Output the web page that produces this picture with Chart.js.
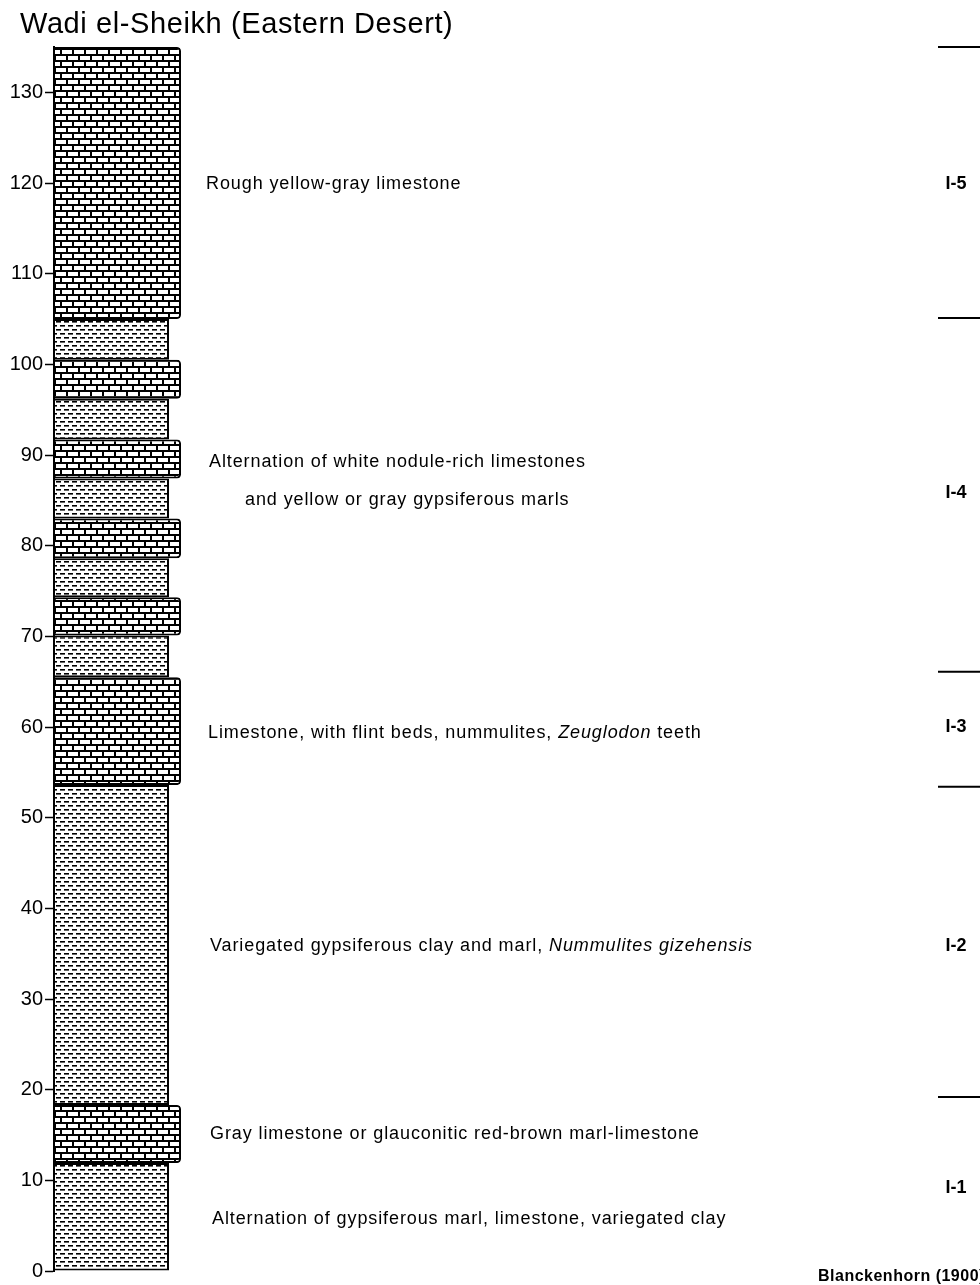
<!DOCTYPE html>
<html>
<head>
<meta charset="utf-8">
<script src="https://cdn.jsdelivr.net/npm/chart.js@4.4.0/dist/chart.umd.min.js"></script>
<style>
  html, body { margin: 0; padding: 0; background: #fff; }
</style>
</head>
<body>
<canvas id="section" width="980" height="1285"></canvas>
<script>
// layers, bottom to top (metres)
const lithology = ['marl', 'limestone', 'marl', 'limestone', 'marl', 'limestone', 'marl',
  'limestone', 'marl', 'limestone', 'marl', 'limestone', 'marl', 'limestone'];
const layerBase = [0, 11.9, 18.3, 53.6, 65.5, 70.1, 74.3, 78.6, 83.0, 87.4, 91.7, 96.2, 100.5, 105.0];
const layerTop = [11.9, 18.3, 53.6, 65.5, 70.1, 74.3, 78.6, 83.0, 87.4, 91.7, 96.2, 100.5, 105.0, 135];

// descriptions (segments: [text, italic]) and the height they sit at
const descParts = [
  [['Rough yellow-gray limestone', false]],
  [['Alternation of white nodule-rich limestones', false]],
  [['and yellow or gray gypsiferous marls', false]],
  [['Limestone, with flint beds, nummulites, ', false], ['Zeuglodon', true], [' teeth', false]],
  [['Variegated gypsiferous clay and marl, ', false], ['Nummulites gizehensis', true]],
  [['Gray limestone or glauconitic red-brown marl-limestone', false]],
  [['Alternation of gypsiferous marl, limestone, variegated clay', false]]
];
const descAt = [120.1, 89.5, 85.2, 59.6, 36.1, 15.3, 6.0];

// units on the right
const unitNames = ['I-1', 'I-2', 'I-3', 'I-4', 'I-5'];
const unitLabelAt = [9.4, 36.1, 60.2, 86.0, 120.1];
const unitBounds = [19.2, 53.4, 66.1, 105.1, 135];

const yMin = 0, yMax = 135, yStep = 10;
const title = 'Wadi el-Sheikh (Eastern Desert)';
const source = 'Blanckenhorn (1900)';

const canvas = document.getElementById('section');
const ctx = canvas.getContext('2d');

function brickPattern() {
  const c = document.createElement('canvas');
  c.width = 12; c.height = 12;
  const g = c.getContext('2d');
  g.fillStyle = '#fff'; g.fillRect(0, 0, 12, 12);
  g.fillStyle = '#000';
  g.fillRect(0, 0, 12, 2);
  g.fillRect(0, 6, 12, 2);
  g.fillRect(0, 0, 2, 6);
  g.fillRect(6, 6, 2, 6);
  return ctx.createPattern(c, 'repeat');
}

function marlPattern() {
  const c = document.createElement('canvas');
  c.width = 8; c.height = 8;
  const g = c.getContext('2d');
  g.fillStyle = '#fff'; g.fillRect(0, 0, 8, 8);
  g.fillStyle = '#000';
  g.fillRect(0, 1, 5, 1.6);
  g.fillRect(4, 5, 4, 1.6);
  g.fillRect(0, 5, 1, 1.6);
  return ctx.createPattern(c, 'repeat');
}

const fills = { limestone: brickPattern(), marl: marlPattern() };
const widths = { limestone: 128, marl: 116 };

// all layers share the y axis as their left edge
const alignLeft = {
  id: 'alignLeft',
  afterDatasetsUpdate(chart) {
    const left = chart.chartArea.left - 1;
    chart.data.datasets.forEach((ds, i) => {
      chart.getDatasetMeta(i).data.forEach(bar => { bar.x = left + bar.width / 2; });
    });
  }
};

const annotate = {
  id: 'annotate',
  afterDraw(chart) {
    const c = chart.ctx;
    const y = chart.scales.y;
    const font = '"Liberation Sans", Arial, sans-serif';
    c.save();
    c.fillStyle = '#000';

    c.textBaseline = 'alphabetic';
    c.font = '29px ' + font;
    c.letterSpacing = '0.6px';
    c.fillText(title, 20, 33);

    const descX = [206, 209, 245, 208, 210, 210, 212];
    c.textBaseline = 'middle';
    c.letterSpacing = '0.9px';
    descParts.forEach((parts, i) => {
      let x = descX[i];
      const py = y.getPixelForValue(descAt[i]) + 2;
      parts.forEach(([txt, italic]) => {
        c.font = (italic ? 'italic ' : '') + '18px ' + font;
        c.fillText(txt, x, py);
        x += c.measureText(txt).width;
      });
    });

    c.letterSpacing = '0px';
    c.font = 'bold 18px ' + font;
    c.textAlign = 'center';
    unitNames.forEach((name, i) => c.fillText(name, 956, y.getPixelForValue(unitLabelAt[i]) + 2));

    c.strokeStyle = '#000';
    c.lineWidth = 2;
    unitBounds.forEach(v => {
      const py = y.getPixelForValue(v);
      c.beginPath(); c.moveTo(938, py); c.lineTo(980, py); c.stroke();
    });

    c.textAlign = 'left';
    c.font = 'bold 16px ' + font;
    c.letterSpacing = '0.5px';
    c.fillText(source, 818, y.getPixelForValue(0) + 6);
    c.restore();
  }
};

new Chart(ctx, {
  type: 'bar',
  data: {
    labels: ['section'],
    datasets: lithology.map((lith, i) => ({
      label: lith,
      data: [[layerBase[i], layerTop[i]]],
      backgroundColor: fills[lith],
      borderColor: '#000',
      borderWidth: 2,
      borderSkipped: false,
      borderRadius: lith === 'limestone' ? { topLeft: 0, bottomLeft: 0, topRight: 4, bottomRight: 4 } : 0,
      inflateAmount: 0,
      barThickness: widths[lith],
      grouped: false
    }))
  },
  options: {
    responsive: false,
    animation: false,
    devicePixelRatio: 1,
    layout: { padding: { top: 47, bottom: 9, left: 0, right: 0 } },
    plugins: { legend: { display: false }, tooltip: { enabled: false } },
    scales: {
      x: { display: false },
      y: {
        min: yMin,
        max: yMax,
        stacked: false,
        ticks: {
          stepSize: yStep,
          includeBounds: false,
          color: '#000',
          padding: 2,
          font: { family: '"Liberation Sans", Arial, sans-serif', size: 20 }
        },
        grid: { drawOnChartArea: false, tickLength: 9, tickWidth: 1.5, tickColor: '#000' },
        border: { display: true, color: '#000', width: 2 },
        afterFit(scale) { scale.width = 54; }
      }
    }
  },
  plugins: [alignLeft, annotate]
});
</script>
</body>
</html>
